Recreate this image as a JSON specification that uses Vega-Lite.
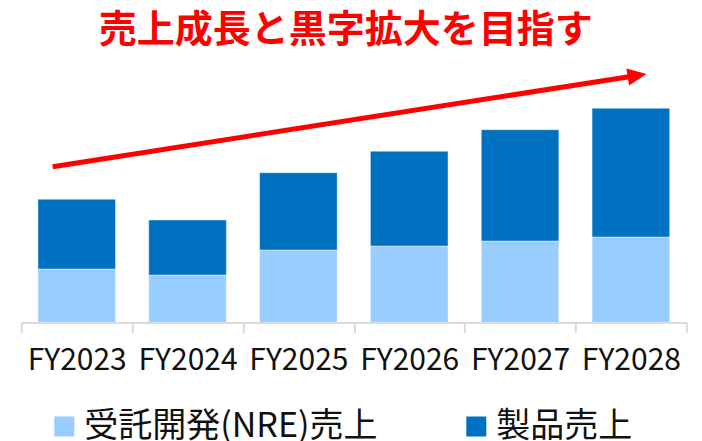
{
  "$schema": "https://vega.github.io/schema/vega-lite/v6.json",
  "width": 665,
  "height": 262,
  "autosize": {"type": "none"},
  "padding": {"left": 21.3, "top": 60.5, "right": 15.7, "bottom": 118.5},
  "background": "#ffffff",
  "title": {
    "text": "売上成長と黒字拡大を目指す",
    "font": "Noto Sans CJK JP",
    "fontSize": 38,
    "fontWeight": "bold",
    "color": "#FF0000",
    "anchor": "middle",
    "dx": -8,
    "offset": 11
  },
  "config": {
    "view": {"stroke": null},
    "font": "Noto Sans CJK JP"
  },
  "datasets": {
    "sales": [
      {"year": "FY2023", "type": "受託開発(NRE)売上", "value": 53.5},
      {"year": "FY2023", "type": "製品売上", "value": 69.7},
      {"year": "FY2024", "type": "受託開発(NRE)売上", "value": 47.5},
      {"year": "FY2024", "type": "製品売上", "value": 55.0},
      {"year": "FY2025", "type": "受託開発(NRE)売上", "value": 72.5},
      {"year": "FY2025", "type": "製品売上", "value": 77.3},
      {"year": "FY2026", "type": "受託開発(NRE)売上", "value": 76.5},
      {"year": "FY2026", "type": "製品売上", "value": 94.7},
      {"year": "FY2027", "type": "受託開発(NRE)売上", "value": 81.5},
      {"year": "FY2027", "type": "製品売上", "value": 111.3},
      {"year": "FY2028", "type": "受託開発(NRE)売上", "value": 85.5},
      {"year": "FY2028", "type": "製品売上", "value": 128.7}
    ],
    "arrow": [
      {"pos": 0.283, "level": 155.8},
      {"pos": 5.556, "level": 247.0}
    ],
    "head": [
      {"pos": 5.556, "level": 247.0}
    ]
  },
  "layer": [
    {
      "data": {"name": "sales"},
      "mark": {"type": "bar", "width": {"band": 0.7}, "stroke": "#ffffff", "strokeWidth": 0.8, "strokeOpacity": 0.5},
      "encoding": {
        "x": {
          "field": "year",
          "type": "nominal",
          "sort": null,
          "scale": {"paddingInner": 0, "paddingOuter": 0},
          "axis": {
            "title": null,
            "labelAngle": 0,
            "labelFont": "Noto Sans CJK JP",
            "labelFontSize": 30,
            "labelColor": "#111111",
            "labelPadding": 13,
            "domainColor": "#d9d9d9",
            "domainWidth": 2,
            "tickColor": "#d9d9d9",
            "tickWidth": 2,
            "tickSize": 10,
            "tickBand": "extent",
            "grid": false
          }
        },
        "y": {
          "field": "value",
          "type": "quantitative",
          "stack": "zero",
          "scale": {"domain": [0, 262], "nice": false},
          "axis": null
        },
        "order": {"field": "type", "type": "nominal", "sort": "ascending"},
        "color": {
          "field": "type",
          "type": "nominal",
          "scale": {"domain": ["受託開発(NRE)売上", "製品売上"], "range": ["#99CCFF", "#0070C0"]},
          "legend": {
            "title": null,
            "orient": "none",
            "direction": "horizontal",
            "legendX": 26,
            "legendY": 349,
            "symbolType": "square",
            "symbolSize": 400,
            "symbolStrokeWidth": 0,
            "symbolOpacity": 1,
            "labelFont": "Noto Sans CJK JP",
            "labelFontSize": 34,
            "labelColor": "#111111",
            "labelOffset": 3,
            "labelLimit": 0,
            "columnPadding": 81
          }
        }
      }
    },
    {
      "data": {"name": "arrow"},
      "mark": {"type": "line", "color": "#FF0000", "strokeWidth": 5, "strokeCap": "butt"},
      "encoding": {
        "x": {"field": "pos", "type": "quantitative", "scale": {"domain": [0, 6], "nice": false, "zero": false}, "axis": null},
        "y": {"field": "level", "type": "quantitative"}
      }
    },
    {
      "data": {"name": "head"},
      "mark": {"type": "point", "shape": "M -1 -0.9 L 1 0 L -1 0.9 Z", "filled": true, "color": "#FF0000", "opacity": 1, "size": 361, "angle": 351.1},
      "encoding": {
        "x": {"field": "pos", "type": "quantitative", "scale": {"domain": [0, 6], "nice": false, "zero": false}, "axis": null},
        "y": {"field": "level", "type": "quantitative"}
      }
    }
  ],
  "resolve": {"scale": {"x": "independent"}, "axis": {"x": "independent"}}
}
